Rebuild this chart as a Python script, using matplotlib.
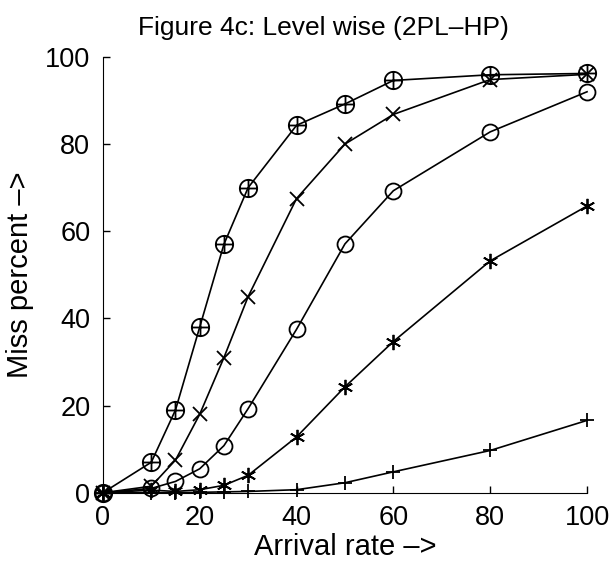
import matplotlib
matplotlib.use("Agg")
import matplotlib.pyplot as plt
from matplotlib.path import Path
import numpy as np

x = [0, 10, 15, 20, 25, 30, 40, 50, 60, 80, 100]
s_oplus = [0, 7, 19, 38, 57, 70, 84.3, 89.2, 94.6, 95.9, 96.2]
s_x = [0, 1.5, 7.5, 18, 31, 45, 67.5, 80, 86.8, 94.8, 96.0]
s_o = [0, 1, 2.6, 5.5, 10.8, 19.3, 37.5, 57.1, 69.3, 82.8, 92.0]
s_star = [0, 0.6, 0.3, 0.7, 1.7, 4.0, 12.8, 24.3, 34.7, 53.2, 65.8]
s_plus = [0, 0, 0, 0.1, 0.2, 0.3, 0.7, 2.3, 4.8, 9.7, 16.6]

xticks = [0, 20, 40, 60, 80, 100]
yticks = [0, 20, 40, 60, 80, 100]
title = "Figure 4c: Level wise (2PL\u2013HP)"
xlabel = "Arrival rate \u2013>"
ylabel = "Miss percent \u2013>"

plt.rcParams['font.family'] = ['Liberation Sans', 'DejaVu Sans']

fig = plt.figure(figsize=(6.16, 5.69), dpi=100)
ax = fig.add_axes([0.167, 0.134, 0.786, 0.766])

# circle with plus marker
t = np.linspace(0, 2 * np.pi, 41)
circ_v = np.column_stack([np.cos(t), np.sin(t)])
verts = list(circ_v) + [(-1, 0), (1, 0), (0, -1), (0, 1)]
codes = [Path.MOVETO] + [Path.LINETO] * (len(circ_v) - 1) + [Path.MOVETO, Path.LINETO, Path.MOVETO, Path.LINETO]
oplus = Path(verts, codes)

kw = dict(color='black', lw=1.2, mfc='none', mec='black', mew=1.3, clip_on=False)
ax.plot(x, s_plus, marker='+', ms=10.5, **kw)
ax.plot(x, s_star, marker=(6, 2, 0), ms=11, **kw)
ax.plot(x, s_o, marker='o', ms=11.5, **kw)
ax.plot(x, s_x, marker='x', ms=9.5, **kw)
ax.plot(x, s_oplus, marker=oplus, ms=12.5, **kw)

ax.set_xlim(0, 100)
ax.set_ylim(0, 100)
ax.set_xticks(xticks)
ax.set_yticks(yticks)
ax.tick_params(direction='in', length=5, width=1, labelsize=19.5)
ax.tick_params(axis='x', pad=8.5)
ax.tick_params(axis='y', pad=9)
ax.spines['top'].set_visible(False)
ax.spines['right'].set_visible(False)
ax.set_title(title, fontsize=19, pad=16, x=0.455)
ax.set_xlabel(xlabel, fontsize=21, labelpad=2)
ax.set_ylabel(ylabel, fontsize=21, labelpad=8)

fig.savefig("out.png", dpi=100)
